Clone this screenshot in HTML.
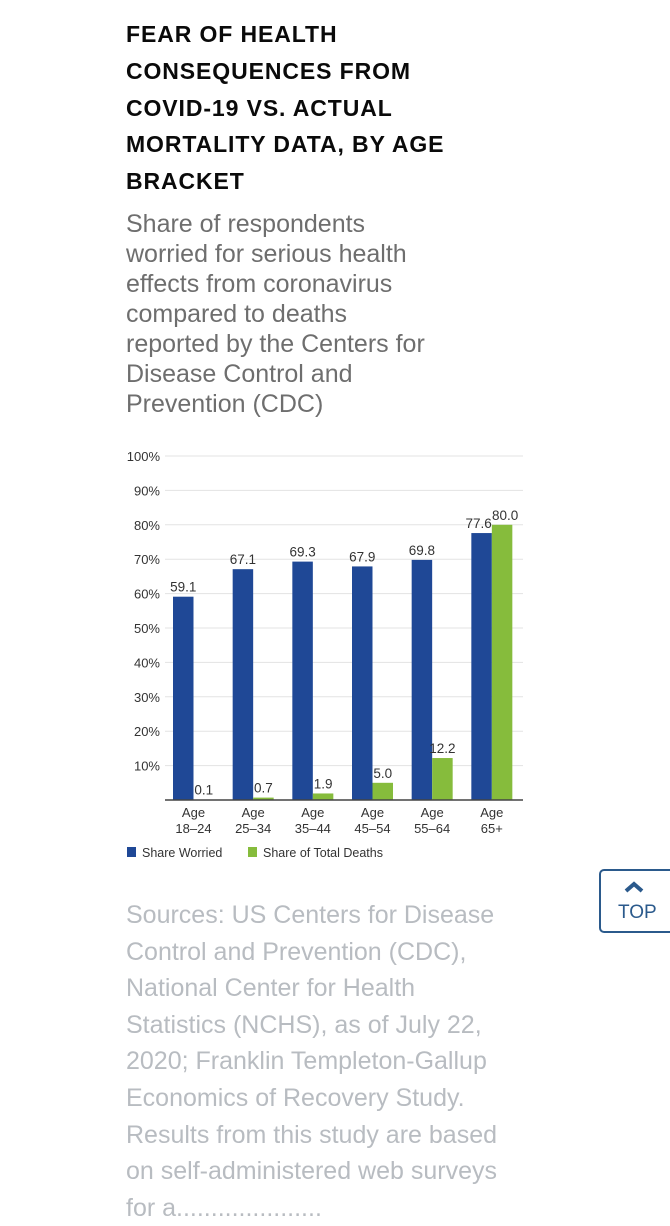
<!DOCTYPE html>
<html><head><meta charset="utf-8">
<style>
body{margin:0;width:670px;height:1200px;overflow:hidden;background:#fff;font-family:"Liberation Sans",sans-serif;position:relative}
.title{position:absolute;left:126px;top:16px;font-weight:bold;font-size:23px;line-height:36.8px;letter-spacing:0.9px;color:#0a0a0a;margin:0}
.sub{position:absolute;left:126px;top:209px;font-size:25px;line-height:30px;color:#6e6e6e;margin:0}
.src{position:absolute;left:126px;top:897px;font-size:25px;line-height:36.6px;color:#b8bcc1;margin:0;width:540px}
.top{position:absolute;left:599px;top:869px;width:80px;height:64px;border:2px solid #2b5a8c;border-radius:5px;box-sizing:border-box;color:#2b5a8c;font-size:19px;text-align:left}
svg{position:absolute;left:0;top:0}
</style></head><body>
<h1 class="title">FEAR OF HEALTH<br>CONSEQUENCES FROM<br>COVID-19 VS. ACTUAL<br>MORTALITY DATA, BY AGE<br>BRACKET</h1>
<p class="sub">Share of respondents<br>worried for serious health<br>effects from coronavirus<br>compared to deaths<br>reported by the Centers for<br>Disease Control and<br>Prevention (CDC)</p>
<svg id="chart" width="670" height="880"></svg>
<div class="top">
<svg width="24" height="14" style="left:21px;top:9px"><polyline points="4,11 12,4 20,11" fill="none" stroke="#2b5a8c" stroke-width="4"/></svg>
<span style="position:absolute;left:17px;top:31px">TOP</span></div>
<p class="src">Sources: US Centers for Disease<br>Control and Prevention (CDC),<br>National Center for Health<br>Statistics (NCHS), as of July 22,<br>2020; Franklin Templeton-Gallup<br>Economics of Recovery Study.<br>Results from this study are based<br>on self-administered web surveys<br>for a.....................</p>
<script>
const categories=["18–24","25–34","35–44","45–54","55–64","65+"];
const worried=[59.1,67.1,69.3,67.9,69.8,77.6];
const deaths=[0.1,0.7,1.9,5.0,12.2,80.0];
const yTicks=[10,20,30,40,50,60,70,80,90,100];
const NS="http://www.w3.org/2000/svg";
const svg=document.getElementById('chart');
const x0=165,x1=523,y0=800,y100=456;
const band=(x1-x0)/categories.length;
const bw=20.5;
function y(v){return y0-(y0-y100)*v/100;}
function xg(i){return x0+i*band+8;}
function mk(t,a,txt){const e=document.createElementNS(NS,t);for(const k in a)e.setAttribute(k,a[k]);if(txt!=null)e.textContent=txt;svg.appendChild(e);return e;}
yTicks.forEach(t=>{
 const g=mk('line',{x1:x0,x2:x1,y1:y(t),y2:y(t),stroke:'#e3e3e3','stroke-width':1});
 
 
 const l=mk('text',{x:160,y:y(t)+5,'text-anchor':'end','font-size':13,fill:'#333','font-family':'Liberation Sans'},t+'%');
 
 
});
categories.forEach((c,i)=>{
 const bx=xg(i);
 const b=mk('rect',{x:bx,y:y(worried[i]),width:bw,height:y0-y(worried[i]),fill:'#1f4896'});
 
 
 const g=mk('rect',{x:bx+bw,y:y(deaths[i]),width:bw,height:y0-y(deaths[i]),fill:'#86bc3c'});
 
 
 const lw=mk('text',{x:bx+bw/2-(i==5?3:0),y:y(worried[i])-5,'text-anchor':'middle','font-size':13.5,fill:'#333','font-family':'Liberation Sans'},worried[i].toFixed(1));
 
 
 const ld=mk('text',{x:bx+bw*1.5+(i==5?3:0),y:y(deaths[i])-5,'text-anchor':'middle','font-size':13.5,fill:'#333','font-family':'Liberation Sans'},deaths[i].toFixed(1));
 
 
 const c1=mk('text',{x:bx+bw,y:817,'text-anchor':'middle','font-size':13,fill:'#333','font-family':'Liberation Sans'},'Age');
 
 
 const c2=mk('text',{x:bx+bw,y:833,'text-anchor':'middle','font-size':13,fill:'#333','font-family':'Liberation Sans'},c);
 
 
});
const ax=mk('line',{x1:x0,x2:x1,y1:y0,y2:y0,stroke:'#444','stroke-width':1.5});


const leg=[["Share Worried","#1f4896",127],["Share of Total Deaths","#86bc3c",248]];
leg.forEach(l=>{
 const r=mk('rect',{x:l[2],y:847,width:9,height:10,fill:l[1]});
 
 
 const t=mk('text',{x:l[2]+15,y:857,'font-size':12.5,fill:'#333','font-family':'Liberation Sans'},l[0]);
 
 
});
</script>
</body></html>
